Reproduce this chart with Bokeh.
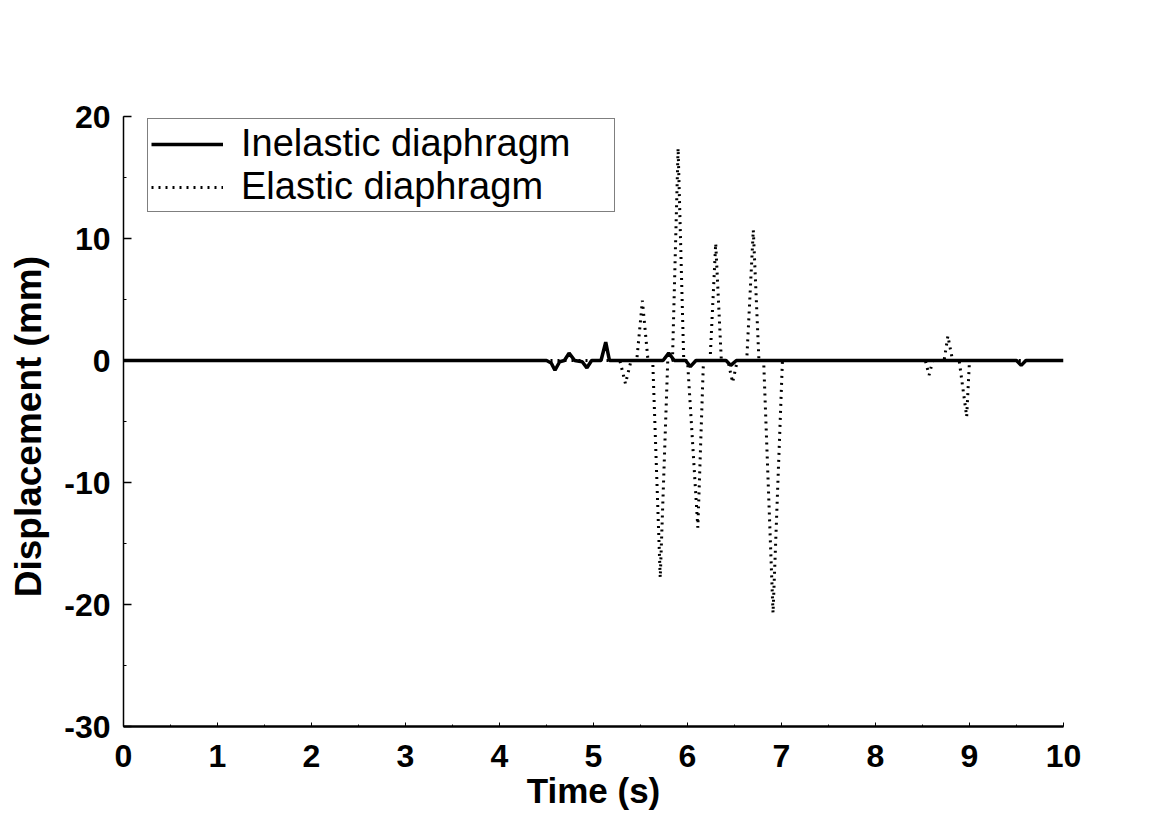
from bokeh.plotting import figure
from bokeh.models import SingleIntervalTicker, Range1d, Legend, LegendItem
from bokeh.embed import file_html
from bokeh.resources import INLINE

# Inelastic diaphragm (solid)
time_inelastic = [0.0, 4.50, 4.55, 4.59, 4.64, 4.69, 4.74, 4.80, 4.88, 4.93, 4.98,
                  5.08, 5.13, 5.17, 5.74, 5.80, 5.86, 5.98, 6.03, 6.09, 6.41, 6.46,
                  6.52, 9.50, 9.55, 9.60, 10.0]
disp_inelastic = [0.0, 0.0, -0.2, -0.8, -0.1, 0.0, 0.6, 0.0, -0.1, -0.6, 0.0,
                  0.0, 1.5, 0.0, 0.0, 0.6, 0.0, 0.0, -0.5, 0.0, 0.0, -0.4,
                  0.0, 0.0, -0.4, 0.0, 0.0]

# Elastic diaphragm (dotted)
time_elastic = [0.0, 5.28, 5.34, 5.40, 5.46, 5.52, 5.58, 5.63, 5.71, 5.79,
                5.84, 5.90, 5.96, 6.00, 6.11, 6.17, 6.24, 6.30, 6.36,
                6.43, 6.48, 6.53, 6.63, 6.70, 6.76, 6.81, 6.91, 7.01,
                8.53, 8.57, 8.61, 8.73, 8.77, 8.82, 8.89, 8.97, 9.00, 10.0]
disp_elastic = [0.0, 0.0, -1.9, 0.0, 0.0, 4.9, 0.0, 0.0, -17.8, 0.0,
                0.0, 17.4, 0.0, 0.0, -13.7, 0.0, 0.0, 9.6, 0.0,
                0.0, -1.8, 0.0, 0.0, 10.7, 0.0, 0.0, -20.7, 0.0,
                0.0, -1.2, 0.0, 0.0, 2.0, 0.0, 0.0, -4.6, 0.0, 0.0]

x_ticks = [0, 1, 2, 3, 4, 5, 6, 7, 8, 9, 10]
y_ticks = [-30, -20, -10, 0, 10, 20]

FONT = "Liberation Sans"

p = figure(frame_width=940, frame_height=610,
           x_range=Range1d(0, 10), y_range=Range1d(-30, 20),
           output_backend="svg", toolbar_location=None,
           min_border_left=123, min_border_right=109,
           min_border_top=116, min_border_bottom=113,
           background_fill_color="white", border_fill_color="white")
p.outline_line_color = None
p.grid.visible = False

p.xaxis.ticker = SingleIntervalTicker(interval=1, num_minor_ticks=2)
p.yaxis.ticker = SingleIntervalTicker(interval=10, num_minor_ticks=2)
p.xaxis.major_label_overrides = {t: str(t) for t in x_ticks}
p.yaxis.major_label_overrides = {t: str(t) for t in y_ticks}

for ax in (p.xaxis[0], p.yaxis[0]):
    ax.major_label_text_font = FONT
    ax.major_label_text_font_style = "bold"
    ax.major_label_text_font_size = "32px"
    ax.major_label_text_color = "black"
    ax.axis_label_text_font = FONT
    ax.axis_label_text_font_style = "bold"
    ax.axis_label_text_color = "black"
    ax.axis_line_color = "black"
    ax.major_tick_line_color = "black"
    ax.minor_tick_line_color = "black"
    ax.major_tick_out = 0
    ax.minor_tick_out = 0

p.xaxis.axis_label = "Time (s)"
p.xaxis.axis_label_text_font_size = "35px"
p.xaxis.axis_line_width = 2.5
p.xaxis.major_tick_in = 4
p.xaxis.minor_tick_in = 2
p.xaxis.major_label_standoff = 18
p.xaxis.axis_label_standoff = 1

p.yaxis.axis_label = "Displacement  (mm)"
p.yaxis.axis_label_text_font_size = "37px"
p.yaxis.axis_line_width = 1.5
p.yaxis.major_tick_in = 8
p.yaxis.minor_tick_in = 3
p.yaxis.major_tick_line_width = 1.5
p.yaxis.major_label_standoff = 13
p.yaxis.axis_label_standoff = 12

r_el = p.line(time_elastic, disp_elastic, line_color="black", line_width=3,
              line_dash="2 5")
r_in = p.line(time_inelastic, disp_inelastic, line_color="black", line_width=3.5)

legend = Legend(items=[LegendItem(label="Inelastic diaphragm", renderers=[r_in]),
                       LegendItem(label="Elastic diaphragm", renderers=[r_el])],
                location="top_left")
legend.margin = 0
legend.padding = 3
legend.spacing = 0
legend.glyph_width = 72
legend.label_standoff = 18
legend.label_width = 370
legend.label_text_font = FONT
legend.label_text_font_size = "38px"
legend.label_text_color = "black"
legend.border_line_color = "black"
legend.border_line_width = 1.5
legend.background_fill_alpha = 1.0
p.add_layout(legend, "center")
legend.location = (24, 514)

open("out.html", "w").write(file_html(p, INLINE))
